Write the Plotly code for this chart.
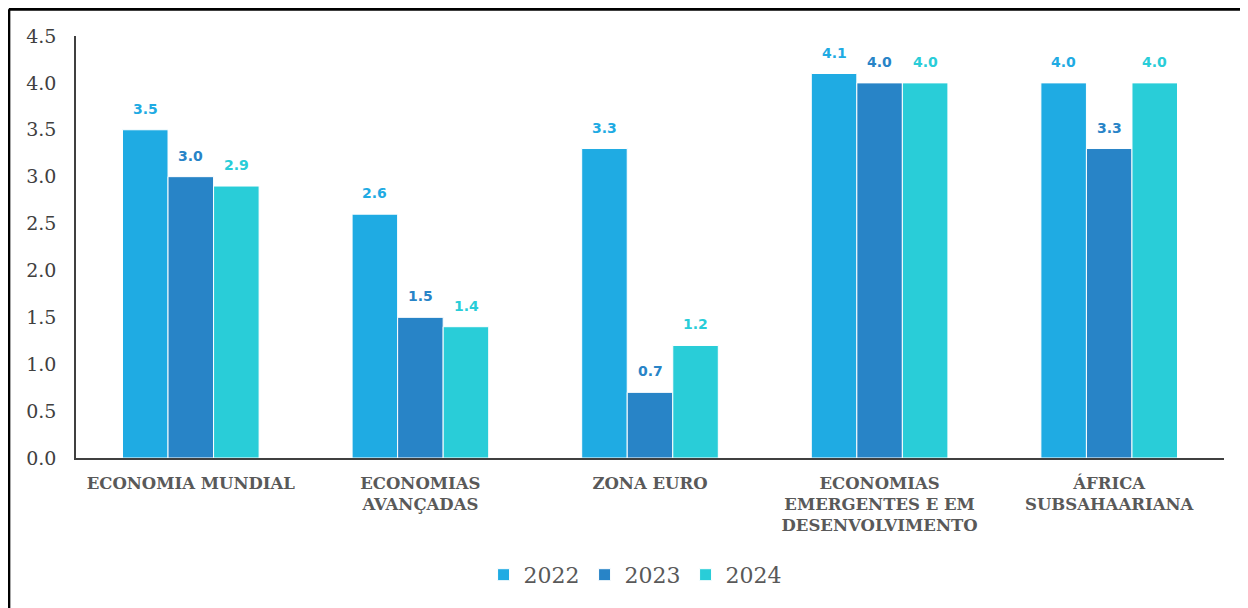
import plotly.graph_objects as go

categories = [
    "ECONOMIA MUNDIAL",
    "ECONOMIAS<br>AVANÇADAS",
    "ZONA EURO",
    "ECONOMIAS<br>EMERGENTES E EM<br>DESENVOLVIMENTO",
    "ÁFRICA<br>SUBSAHAARIANA",
]
years = ["2022", "2023", "2024"]
values_2022 = [3.5, 2.6, 3.3, 4.1, 4.0]
values_2023 = [3.0, 1.5, 0.7, 4.0, 3.3]
values_2024 = [2.9, 1.4, 1.2, 4.0, 4.0]
y_ticks = [0, 0.5, 1.0, 1.5, 2.0, 2.5, 3.0, 3.5, 4.0, 4.5]

series = [values_2022, values_2023, values_2024]
colors = ["#1FABE3", "#2884C7", "#29CDD8"]

fig = go.Figure()
for year, vals, color in zip(years, series, colors):
    fig.add_trace(go.Bar(
        x=categories, y=vals, name=year,
        marker=dict(color=color, line=dict(color="white", width=1)),
        hoverinfo="x+y",
    ))

# value labels sit a bit higher than plotly's "outside" text
bar_px = 45.6
for j, (vals, color) in enumerate(zip(series, colors)):
    for cat, v in zip(categories, vals):
        fig.add_annotation(
            x=cat, y=v, text=f"<b>{v:.1f}</b>", showarrow=False,
            yanchor="bottom", yshift=11, xshift=(j - 1) * bar_px,
            font=dict(family="DejaVu Sans", size=14, color=color),
        )

# outer frame of the original slide (top and left edges)
fig.add_shape(type="line", xref="paper", yref="paper",
              x0=-0.0585, x1=1.03, y0=1.0635, y1=1.0635,
              line=dict(color="black", width=3))
fig.add_shape(type="line", xref="paper", yref="paper",
              x0=-0.0585, x1=-0.0585, y0=1.0635, y1=-0.4,
              line=dict(color="black", width=3))

fig.update_layout(
    width=1248, height=608,
    paper_bgcolor="white", plot_bgcolor="white",
    margin=dict(l=68, r=32, t=28, b=158),
    barmode="group", bargap=0.405, bargroupgap=0,
    font=dict(family="DejaVu Serif", color="#404040"),
    showlegend=True,
    legend=dict(
        orientation="h", x=0.487, xanchor="center", y=-0.277, yanchor="middle",
        font=dict(family="DejaVu Serif", size=22, color="#595959"),
        itemwidth=30, traceorder="normal",
    ),
)
fig.update_xaxes(
    showline=True, linecolor="#404040", linewidth=1.5,
    showgrid=False, ticks="", ticklabelstandoff=9,
    tickfont=dict(family="DejaVu Serif", size=16.5, color="#595959", weight="bold"),
)
fig.update_yaxes(
    range=[0, 4.5], tickvals=y_ticks, tickformat=".1f",
    showline=True, linecolor="#404040", linewidth=1.5,
    showgrid=False, zeroline=False, ticks="", ticklabelstandoff=14,
    tickfont=dict(family="DejaVu Serif", size=19, color="#404040"),
)

fig.write_html("out.html")
